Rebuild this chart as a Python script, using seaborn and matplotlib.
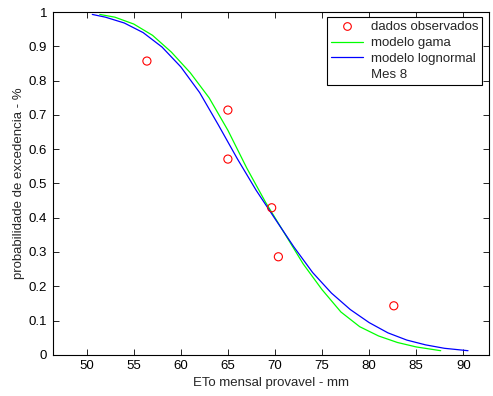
import matplotlib
matplotlib.use("Agg")
import matplotlib.pyplot as plt
from matplotlib.lines import Line2D
import seaborn as sns
import pandas as pd

# observed monthly ETo (mm) and their exceedance probabilities
obs_x = [56.4, 65.0, 65.0, 69.65, 70.36, 82.62]
obs_y = [0.857, 0.714, 0.571, 0.429, 0.286, 0.143]

# fitted gamma model
gama_x = [51.4, 53.0, 55.0, 57.0, 59.0, 61.0, 63.0, 65.0, 67.0, 69.0, 71.0,
          73.0, 75.0, 77.0, 79.0, 81.0, 83.0, 85.0, 87.6]
gama_y = [0.993, 0.985, 0.965, 0.932, 0.883, 0.823, 0.750, 0.655, 0.545, 0.445, 0.355,
          0.265, 0.190, 0.125, 0.082, 0.055, 0.036, 0.023, 0.012]

# fitted lognormal model
logn_x = [50.6, 52.0, 54.0, 56.0, 58.0, 60.0, 62.0, 64.0, 66.0, 68.0, 70.0,
          72.0, 74.0, 76.0, 78.0, 80.0, 82.0, 84.0, 86.0, 88.0, 90.5]
logn_y = [0.993, 0.985, 0.968, 0.940, 0.898, 0.840, 0.765, 0.670, 0.572, 0.480, 0.397,
          0.315, 0.240, 0.180, 0.132, 0.094, 0.064, 0.043, 0.029, 0.019, 0.012]

x_ticks = [50, 55, 60, 65, 70, 75, 80, 85, 90]
y_ticks = [0, 0.1, 0.2, 0.3, 0.4, 0.5, 0.6, 0.7, 0.8, 0.9, 1]

sns.set_style("white")
plt.rcParams["font.family"] = ["Liberation Sans", "DejaVu Sans"]
plt.rcParams["font.size"] = 9.5

fig = plt.figure(figsize=(4.93, 3.96), dpi=100)
ax = fig.add_axes([0.107, 0.104, 0.8855, 0.8656])

df_obs = pd.DataFrame({"x": obs_x, "y": obs_y})
df_gama = pd.DataFrame({"x": gama_x, "y": gama_y})
df_logn = pd.DataFrame({"x": logn_x, "y": logn_y})

sns.scatterplot(data=df_obs, x="x", y="y", ax=ax, marker="o", s=34,
                fc="none", ec="#ff0000", linewidth=0.8, zorder=3)
sns.lineplot(data=df_gama, x="x", y="y", ax=ax, sort=False, color="#00ff00",
             linewidth=0.9, estimator=None)
sns.lineplot(data=df_logn, x="x", y="y", ax=ax, sort=False, color="#0000ff",
             linewidth=0.9, estimator=None)

ax.set_xlim(46.4, 92.76)
ax.set_ylim(0, 1)
ax.set_xticks(x_ticks)
ax.set_xticklabels([str(v) for v in x_ticks])
ax.set_yticks(y_ticks)
ax.set_yticklabels(["0", "0.1", "0.2", "0.3", "0.4", "0.5", "0.6", "0.7", "0.8", "0.9", "1"])
ax.tick_params(direction="in", length=4, width=0.6, top=True, right=True,
               bottom=True, left=True, labelsize=9.5, pad=4, colors="black")
for s in ax.spines.values():
    s.set_linewidth(0.8)
    s.set_color("black")

ax.set_xlabel("ETo mensal provavel - mm", fontsize=9.5, labelpad=3)
ax.set_ylabel("probabilidade de excedencia - %", fontsize=9.5, labelpad=3)

handles = [
    Line2D([], [], marker="o", linestyle="none", markerfacecolor="none",
           markeredgecolor="#ff0000", markersize=5.5, markeredgewidth=0.8),
    Line2D([], [], color="#00ff00", linewidth=0.9),
    Line2D([], [], color="#0000ff", linewidth=0.9),
    Line2D([], [], linestyle="none"),
]
labels = ["dados observados", "modelo gama", "modelo lognormal", "Mes 8"]
leg = ax.legend(handles, labels, loc="upper right",
                bbox_to_anchor=(482 / 493, 1 - 17 / 396),
                bbox_transform=fig.transFigure, borderaxespad=0,
                fancybox=False, framealpha=1, edgecolor="black",
                fontsize=9.5, handlelength=2.4, handletextpad=0.6,
                labelspacing=0.28, borderpad=0.3)
leg.get_frame().set_linewidth(0.8)

fig.savefig("out.png", dpi=100)
